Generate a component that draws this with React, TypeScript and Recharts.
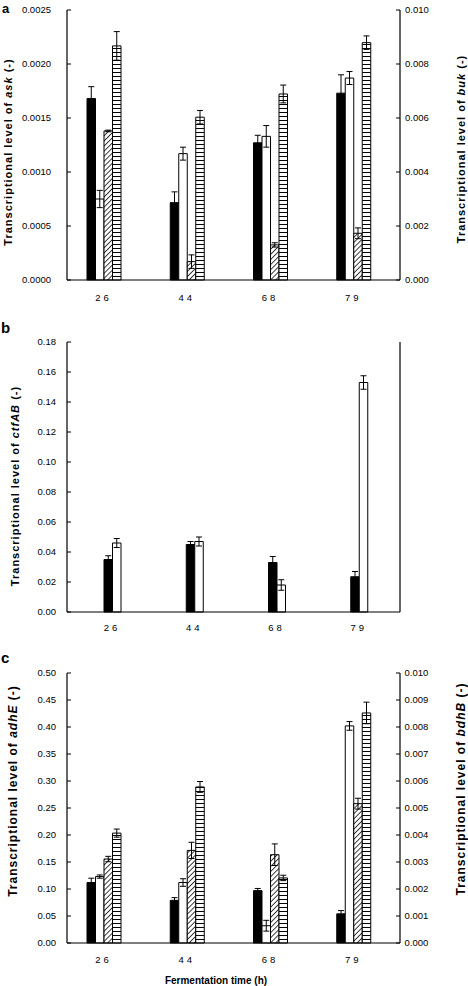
import { BarChart, Bar, XAxis, YAxis, ErrorBar } from 'recharts';

const categories = ['26', '44', '68', '79'];

// panel a: ask (left axis), buk (right axis)
const askBlack = [0.00168, 0.000716, 0.00127, 0.00173];
const askBlackErr = [0.00011, 0.0001, 0.00007, 0.00017];
const askWhite = [0.00075, 0.00117, 0.00133, 0.00187];
const askWhiteErr = [0.00008, 0.00006, 0.0001, 0.00006];
const bukHatch = [0.00552, 0.00068, 0.0013, 0.00173];
const bukHatchErr = [0.00003, 0.00025, 0.00008, 0.0002];
const bukStripe = [0.00867, 0.00603, 0.00689, 0.00879];
const bukStripeErr = [0.00053, 0.00025, 0.00033, 0.00025];

// panel b: ctfAB
const ctfBlack = [0.035, 0.045, 0.033, 0.0235];
const ctfBlackErr = [0.0025, 0.002, 0.004, 0.0035];
const ctfWhite = [0.046, 0.047, 0.018, 0.153];
const ctfWhiteErr = [0.003, 0.003, 0.0035, 0.0045];

// panel c: adhE (left axis), bdhB (right axis)
const adhBlack = [0.112, 0.079, 0.097, 0.054];
const adhBlackErr = [0.008, 0.005, 0.004, 0.006];
const adhWhite = [0.123, 0.112, 0.032, 0.402];
const adhWhiteErr = [0.003, 0.007, 0.01, 0.008];
const bdhHatch = [0.00311, 0.00343, 0.00327, 0.00516];
const bdhHatchErr = [0.0001, 0.0003, 0.0004, 0.0002];
const bdhStripe = [0.00407, 0.00578, 0.00241, 0.00852];
const bdhStripeErr = [0.00015, 0.0002, 0.0001, 0.0004];

const askTicks = [0, 0.0005, 0.001, 0.0015, 0.002, 0.0025];
const bukTicks = [0, 0.002, 0.004, 0.006, 0.008, 0.01];
const ctfTicks = [0, 0.02, 0.04, 0.06, 0.08, 0.1, 0.12, 0.14, 0.16, 0.18];
const adhTicks = [0, 0.05, 0.1, 0.15, 0.2, 0.25, 0.3, 0.35, 0.4, 0.45, 0.5];
const bdhTicks = [0, 0.001, 0.002, 0.003, 0.004, 0.005, 0.006, 0.007, 0.008, 0.009, 0.01];

const dataA = categories.map((cat, i) => ({
  cat,
  b: askBlack[i], bErr: askBlackErr[i],
  w: askWhite[i], wErr: askWhiteErr[i],
  h: bukHatch[i], hErr: bukHatchErr[i],
  s: bukStripe[i], sErr: bukStripeErr[i],
}));
const dataB = categories.map((cat, i) => ({
  cat,
  b: ctfBlack[i], bErr: ctfBlackErr[i],
  w: ctfWhite[i], wErr: ctfWhiteErr[i],
}));
const dataC = categories.map((cat, i) => ({
  cat,
  b: adhBlack[i], bErr: adhBlackErr[i],
  w: adhWhite[i], wErr: adhWhiteErr[i],
  h: bdhHatch[i], hErr: bdhHatchErr[i],
  s: bdhStripe[i], sErr: bdhStripeErr[i],
}));

const FONT = '"Liberation Sans", Arial, sans-serif';
const axisLine = { stroke: '#000', strokeWidth: 1.2 };
const yTick = { fontSize: 9.5, fill: '#000', fontFamily: FONT };
const xTick = { fontSize: 9.5, fill: '#000', fontFamily: FONT, letterSpacing: 3 };

function Patterns() {
  return (
    <defs>
      <pattern id="diag" patternUnits="userSpaceOnUse" width="3.6" height="3.6" patternTransform="rotate(45)">
        <rect width="3.6" height="3.6" fill="#fff" />
        <line x1="0" y1="0" x2="0" y2="3.6" stroke="#000" strokeWidth="1.5" />
      </pattern>
      <pattern id="stripe" patternUnits="userSpaceOnUse" width="4" height="4">
        <rect width="4" height="4" fill="#fff" />
        <line x1="0" y1="0.5" x2="4" y2="0.5" stroke="#000" strokeWidth="1" />
      </pattern>
    </defs>
  );
}

function errBar(key: string) {
  return <ErrorBar dataKey={key} width={3} stroke="#000" strokeWidth={1} direction="y" />;
}

function Title({ x, y, gene, size = 11 }: { x: number; y: number; gene: string; size?: number }) {
  return (
    <text
      transform={`translate(${x},${y}) rotate(-90)`}
      textAnchor="middle"
      dominantBaseline="central"
      fontFamily={FONT}
      fontWeight="bold"
      fontSize={size}
      letterSpacing={1}
    >
      Transcriptional level of <tspan fontStyle="italic">{gene}</tspan> (-)
    </text>
  );
}

export default function App() {
  return (
    <div style={{ position: 'absolute', left: 0, top: 0, width: 468, height: 986, background: '#fff' }}>
      <div style={{ position: 'absolute', left: 0, top: 0 }}>
        <BarChart width={468} height={310} data={dataA} margin={{ top: 10, right: 0, left: 0, bottom: 0 }} barGap={0} barSize={8.5}>
          <Patterns />
          <XAxis dataKey="cat" height={30} padding={{ left: -5, right: 5 }} tickLine={false} axisLine={axisLine} tick={xTick} tickMargin={8} interval={0} />
          <XAxis xAxisId="top" dataKey="cat" orientation="top" height={0} tick={false} tickLine={false} axisLine={axisLine} />
          <YAxis yAxisId="l" width={67} domain={[0, 0.0025]} ticks={askTicks} tickFormatter={(v: number) => v.toFixed(4)} tickSize={-4} tickMargin={20} tick={yTick} axisLine={axisLine} tickLine={{ stroke: '#000' }} />
          <YAxis yAxisId="r" orientation="right" width={68} domain={[0, 0.01]} ticks={bukTicks} tickFormatter={(v: number) => v.toFixed(3)} tickSize={-4} tickMargin={9} tick={yTick} axisLine={axisLine} tickLine={{ stroke: '#000' }} />
          <Bar yAxisId="l" dataKey="b" fill="#000" stroke="#000" isAnimationActive={false}>{errBar('bErr')}</Bar>
          <Bar yAxisId="l" dataKey="w" fill="#fff" stroke="#000" isAnimationActive={false}>{errBar('wErr')}</Bar>
          <Bar yAxisId="r" dataKey="h" fill="url(#diag)" stroke="#000" isAnimationActive={false}>{errBar('hErr')}</Bar>
          <Bar yAxisId="r" dataKey="s" fill="url(#stripe)" stroke="#000" isAnimationActive={false}>{errBar('sErr')}</Bar>
        </BarChart>
      </div>
      <div style={{ position: 'absolute', left: 0, top: 332 }}>
        <BarChart width={468} height={310} data={dataB} margin={{ top: 10, right: 0, left: 0, bottom: 0 }} barGap={0} barSize={8.5}>
          <XAxis dataKey="cat" height={30} padding={{ left: 4, right: 0 }} tickLine={false} axisLine={axisLine} tick={xTick} tickMargin={6.5} interval={0} />
          <XAxis xAxisId="top" dataKey="cat" orientation="top" height={0} tick={false} tickLine={false} axisLine={axisLine} />
          <YAxis yAxisId="l" width={67} domain={[0, 0.18]} ticks={ctfTicks} tickFormatter={(v: number) => v.toFixed(2)} tickSize={-4} tickMargin={15} tick={yTick} axisLine={axisLine} tickLine={{ stroke: '#000' }} />
          <YAxis yAxisId="r" orientation="right" width={68} domain={[0, 1]} tick={false} tickLine={false} axisLine={axisLine} />
          <Bar yAxisId="l" dataKey="b" fill="#000" stroke="#000" isAnimationActive={false}>{errBar('bErr')}</Bar>
          <Bar yAxisId="l" dataKey="w" fill="#fff" stroke="#000" isAnimationActive={false}>{errBar('wErr')}</Bar>
        </BarChart>
      </div>
      <div style={{ position: 'absolute', left: 0, top: 663 }}>
        <BarChart width={468} height={323} data={dataC} margin={{ top: 10, right: 0, left: 0, bottom: 0 }} barGap={0} barSize={8.5}>
          <Patterns />
          <XAxis dataKey="cat" height={43} padding={{ left: -5, right: 5 }} tickLine={false} axisLine={axisLine} tick={xTick} tickMargin={7} interval={0} />
          <XAxis xAxisId="top" dataKey="cat" orientation="top" height={0} tick={false} tickLine={false} axisLine={axisLine} />
          <YAxis yAxisId="l" width={67} domain={[0, 0.5]} ticks={adhTicks} tickFormatter={(v: number) => v.toFixed(2)} tickSize={-4} tickMargin={15} tick={yTick} axisLine={axisLine} tickLine={{ stroke: '#000' }} />
          <YAxis yAxisId="r" orientation="right" width={68} domain={[0, 0.01]} ticks={bdhTicks} tickFormatter={(v: number) => v.toFixed(3)} tickSize={-4} tickMargin={8.5} tick={yTick} axisLine={axisLine} tickLine={{ stroke: '#000' }} />
          <Bar yAxisId="l" dataKey="b" fill="#000" stroke="#000" isAnimationActive={false}>{errBar('bErr')}</Bar>
          <Bar yAxisId="l" dataKey="w" fill="#fff" stroke="#000" isAnimationActive={false}>{errBar('wErr')}</Bar>
          <Bar yAxisId="r" dataKey="h" fill="url(#diag)" stroke="#000" isAnimationActive={false}>{errBar('hErr')}</Bar>
          <Bar yAxisId="r" dataKey="s" fill="url(#stripe)" stroke="#000" isAnimationActive={false}>{errBar('sErr')}</Bar>
        </BarChart>
      </div>
      <svg width={468} height={986} style={{ position: 'absolute', left: 0, top: 0, pointerEvents: 'none' }}>
        <text x={2} y={13} fontFamily={FONT} fontWeight="bold" fontSize={13}>a</text>
        <text x={1} y={333} fontFamily={FONT} fontWeight="bold" fontSize={15}>b</text>
        <text x={1} y={663} fontFamily={FONT} fontWeight="bold" fontSize={15}>c</text>
        <Title x={8} y={152} gene="ask" />
        <Title x={461} y={149} gene="buk" />
        <Title x={15} y={486} gene="ctfAB" />
        <Title x={13} y={791} gene="adhE" size={12} />
        <Title x={461} y={789} gene="bdhB" size={12} />
        <text x={216} y={984} textAnchor="middle" fontFamily={FONT} fontWeight="bold" fontSize={10}>Fermentation time (h)</text>
      </svg>
    </div>
  );
}
